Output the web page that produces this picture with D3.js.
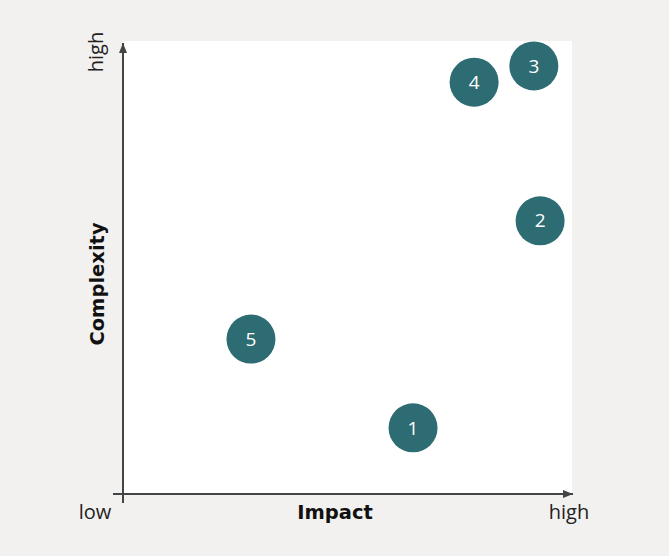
<!DOCTYPE html>
<html lang="en">
<head>
  <meta charset="UTF-8">
  <title>Impact vs Complexity</title>
  <style>
    body { margin: 0; background: #f2f1ef; overflow: hidden; }
    text { font-family: "Open Sans", sans-serif; fill: #222; }
    .axis-title { font-family: "DejaVu Sans", Verdana, sans-serif; font-weight: bold; fill: #111; }
  </style>
</head>
<body>
  <script src="https://d3js.org/d3.v7.min.js"></script>
  <script>
    const ids = ["1", "2", "3", "4", "5"];
    const impact = [6.46, 9.29, 9.15, 7.82, 2.85];
    const complexity = [1.46, 6.03, 9.45, 9.09, 3.42];
    const lowHigh = ["low", "high"];

    const width = 669, height = 556;
    const plot = { left: 123, right: 572, top: 41, bottom: 494 };

    const svg = d3.select("body").append("svg").attr("width", width).attr("height", height);

    svg.append("rect")
      .attr("x", plot.left).attr("y", plot.top)
      .attr("width", plot.right - plot.left).attr("height", plot.bottom - plot.top)
      .attr("fill", "#fff");

    const x = d3.scaleLinear().domain([0, 10]).range([plot.left, plot.right]);
    const y = d3.scaleLinear().domain([0, 10]).range([plot.bottom, plot.top]);

    const defs = svg.append("defs");
    defs.append("marker")
      .attr("id", "arrow")
      .attr("viewBox", "0 -5 10 10")
      .attr("refX", 10).attr("refY", 0)
      .attr("markerWidth", 5).attr("markerHeight", 5)
      .attr("markerUnits", "strokeWidth")
      .attr("orient", "auto")
      .append("path").attr("d", "M0,-4L10,0L0,4Z").attr("fill", "#444");

    // axes
    svg.append("line")
      .attr("x1", plot.left - 10).attr("y1", plot.bottom)
      .attr("x2", plot.right + 1).attr("y2", plot.bottom)
      .attr("stroke", "#444").attr("stroke-width", 2)
      .attr("marker-end", "url(#arrow)");
    svg.append("line")
      .attr("x1", plot.left).attr("y1", plot.bottom + 9)
      .attr("x2", plot.left).attr("y2", plot.top + 2)
      .attr("stroke", "#444").attr("stroke-width", 2)
      .attr("marker-end", "url(#arrow)");

    // axis labels
    svg.append("text").attr("x", 95).attr("y", 519).attr("text-anchor", "middle")
      .attr("font-size", 20).text(lowHigh[0]);
    svg.append("text").attr("x", 569).attr("y", 519).attr("text-anchor", "middle")
      .attr("font-size", 20).text(lowHigh[1]);
    svg.append("text").attr("class", "axis-title").attr("x", 335).attr("y", 519)
      .attr("text-anchor", "middle").attr("font-size", 19.5).text("Impact");
    svg.append("text").attr("class", "axis-title").attr("transform", "translate(104,284) rotate(-90)")
      .attr("text-anchor", "middle").attr("font-size", 19.5).text("Complexity");
    svg.append("text").attr("transform", "translate(103,52) rotate(-90)")
      .attr("text-anchor", "middle").attr("font-size", 20).text(lowHigh[1]);

    const data = ids.map((id, i) => ({ id, impact: impact[i], complexity: complexity[i] }));

    const pts = svg.append("g").selectAll("g").data(data).join("g")
      .attr("transform", d => `translate(${x(d.impact)},${y(d.complexity)})`);
    pts.append("circle").attr("r", 24.5).attr("fill", "#2e6c73");
    pts.append("text").attr("text-anchor", "middle").attr("dy", "0.35em")
      .attr("font-size", 19).style("fill", "#fff").text(d => d.id);
  </script>
</body>
</html>
